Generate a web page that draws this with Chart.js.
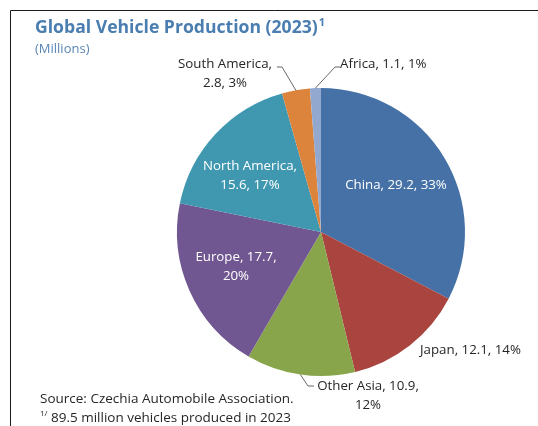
<!DOCTYPE html>
<html>
<head>
<meta charset="utf-8">
<title>Global Vehicle Production (2023)</title>
<script src="https://cdn.jsdelivr.net/npm/chart.js@4/dist/chart.umd.min.js"></script>
<style>
  html, body { margin: 0; padding: 0; background: #fff; }
  #wrap { width: 538px; height: 426px; position: relative; }
</style>
</head>
<body>
<div id="wrap"><canvas id="pieChart" width="538" height="426"></canvas></div>
<script>
// ── Data ─────────────────────────────────────────────────────────────────────
var regions = ['China', 'Japan', 'Other Asia', 'Europe', 'North America', 'South America', 'Africa'];
var production = [29.2, 12.1, 10.9, 17.7, 15.6, 2.8, 1.1];   // millions
var sliceColours = ['#4571a6', '#a9443f', '#88a54c', '#715791', '#3f98b0', '#dc843b', '#92a8ce'];

var titleText = 'Global Vehicle Production (2023)';
var unitText = '(Millions)';
var sourceText = 'Source: Czechia Automobile Association.';
var noteText = '89.5 million vehicles produced in 2023';

(function () {
    'use strict';

    var FONT = '"Open Sans", "Noto Sans", sans-serif';
    var TEXT = '#262626';
    var BLUE = '#4a7db0';

    var total = production.reduce(function (a, b) { return a + b; }, 0);

    function pct(v) { return Math.round(v / total * 100) + '%'; }

    // how each slice label is laid out: inside (white) or outside with leader line
    var labelLayout = [
        { lines: function (n, v) { return [n + ', ' + v + ', ' + pct(v)]; }, x: 396, y: 185, inside: true },
        { lines: function (n, v) { return [n + ', ' + v + ', ' + pct(v)]; }, x: 420, y: 350, align: 'left' },
        { lines: function (n, v) { return [n + ', ' + v + ',', pct(v)]; }, x: 368, y: 386, leader: [[308, 386], [314, 386]] },
        { lines: function (n, v) { return [n + ', ' + v + ',', pct(v)]; }, x: 236, y: 257, inside: true },
        { lines: function (n, v) { return [n + ',', v + ', ' + pct(v)]; }, x: 250, y: 166, inside: true },
        { lines: function (n, v) { return [n + ',', v + ', ' + pct(v)]; }, x: 225, y: 64, leader: [[282, 67], [277, 67]] },
        { lines: function (n, v) { return [n + ', ' + v + ', ' + pct(v)]; }, x: 340, y: 64, align: 'left', leader: [[335, 67], [340, 67]] }
    ];

    var decorPlugin = {
        id: 'decor',
        afterDraw: function (chart) {
            var ctx = chart.ctx;
            ctx.save();

            // frame (top + left edge of the exhibit box)
            ctx.strokeStyle = '#1a1a1a';
            ctx.lineWidth = 1;
            ctx.beginPath();
            ctx.moveTo(10.5, 426);
            ctx.lineTo(10.5, 10.5);
            ctx.lineTo(538, 10.5);
            ctx.stroke();

            // title + unit line
            ctx.fillStyle = BLUE;
            ctx.textBaseline = 'alphabetic';
            ctx.textAlign = 'left';
            ctx.font = 'bold 17.6px ' + FONT;
            ctx.fillText(titleText, 35, 33);
            var tw = ctx.measureText(titleText).width;
            ctx.font = 'bold 11px ' + FONT;
            ctx.fillText('1', 35 + tw + 1, 26);
            ctx.fillStyle = '#5a86b5';
            ctx.font = '13px ' + FONT;
            ctx.fillText(unitText, 35, 53);

            // source + footnote
            ctx.fillStyle = TEXT;
            ctx.font = '13.5px ' + FONT;
            ctx.fillText(sourceText, 40, 403);
            ctx.font = '8px ' + FONT;
            ctx.fillText('1/', 40, 416);
            ctx.font = '13.5px ' + FONT;
            ctx.fillText(noteText, 51, 422);

            // slice labels
            var meta = chart.getDatasetMeta(0);
            ctx.font = '13.3px ' + FONT;
            ctx.textBaseline = 'middle';
            meta.data.forEach(function (arc, i) {
                var lay = labelLayout[i];
                var lines = lay.lines(regions[i], production[i]);
                ctx.fillStyle = lay.inside ? '#ffffff' : TEXT;
                ctx.textAlign = lay.align || 'center';
                lines.forEach(function (ln, k) {
                    ctx.fillText(ln, lay.x, lay.y + k * 19);
                });

                if (lay.leader) {
                    var mid = (arc.startAngle + arc.endAngle) / 2;
                    var px = arc.x + Math.cos(mid) * arc.outerRadius;
                    var py = arc.y + Math.sin(mid) * arc.outerRadius;
                    ctx.strokeStyle = '#404040';
                    ctx.lineWidth = 0.8;
                    ctx.beginPath();
                    ctx.moveTo(px, py);
                    ctx.lineTo(lay.leader[0][0], lay.leader[0][1]);
                    ctx.lineTo(lay.leader[1][0], lay.leader[1][1]);
                    ctx.stroke();
                }
            });

            ctx.restore();
        }
    };

    new Chart(document.getElementById('pieChart'), {
        type: 'pie',
        data: {
            labels: regions,
            datasets: [{
                data: production,
                backgroundColor: sliceColours,
                borderWidth: 0
            }]
        },
        options: {
            responsive: false,
            animation: false,
            layout: { padding: { left: 177, right: 73, top: 88, bottom: 50 } },
            plugins: {
                legend: { display: false },
                tooltip: { enabled: false },
                title: { display: false }
            }
        },
        plugins: [decorPlugin]
    });
})();
</script>
</body>
</html>
